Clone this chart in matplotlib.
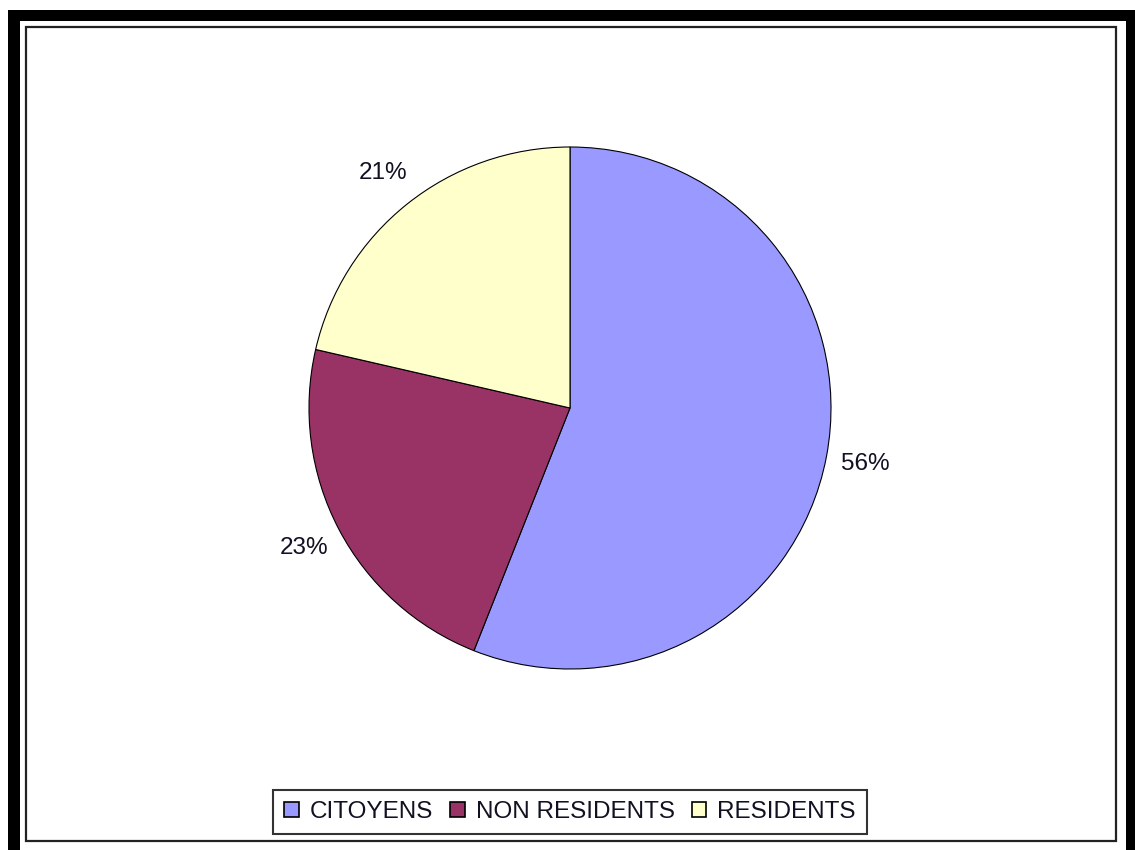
import matplotlib
matplotlib.use("Agg")
import matplotlib.pyplot as plt
from matplotlib.patches import Rectangle

plt.rcParams['font.family'] = ['Liberation Sans', 'DejaVu Sans']

# data
categories = ['CITOYENS', 'NON RESIDENTS', 'RESIDENTS']
shares = [56.0, 22.6, 21.4]
colors = ['#9999FF', '#993366', '#FFFFCC']

W, H = 1135, 850
fig = plt.figure(figsize=(W / 100, H / 100), dpi=100)

# frame: thick black outer + thin inner line (pixel coords, origin top-left)
def px_rect(x0, y0, x1, y1, **kw):
    return Rectangle((x0 / W, 1 - y1 / H), (x1 - x0) / W, (y1 - y0) / H,
                     transform=fig.transFigure, **kw)

for r in [(8, 10, 20, 860), (8, 10, 1135, 21), (1126, 10, 1135, 860)]:
    fig.patches.append(px_rect(*r, facecolor='black', edgecolor='none'))
fig.patches.append(px_rect(26, 27, 1116, 841, facecolor='none',
                           edgecolor='#222222', linewidth=1.6))

# pie
cx, cy, rad = 570, 408, 261
ax = fig.add_axes([(cx - rad) / W, 1 - (cy + rad) / H, 2 * rad / W, 2 * rad / H])
wedges, texts, autotexts = ax.pie(
    shares, colors=colors, startangle=90, counterclock=False,
    autopct='%.0f%%', pctdistance=1.15,
    wedgeprops=dict(edgecolor='black', linewidth=0.8),
    textprops=dict(fontsize=17.5, color='#111122'))
ax.set_xlim(-1, 1)
ax.set_ylim(-1, 1)
ax.set_aspect('equal')
ax.axis('off')

leg = fig.legend(wedges, categories, loc='center', ncol=3,
                 bbox_to_anchor=(570 / W, 1 - 812 / H),
                 fontsize=17.5, frameon=True, fancybox=False,
                 handlelength=0.6, handleheight=0.6, handletextpad=0.45,
                 columnspacing=0.7, borderpad=0.45, borderaxespad=0,
                 labelcolor='#111122')
leg.get_frame().set_edgecolor('black')
leg.get_frame().set_linewidth(1.5)
for h in leg.legend_handles:
    h.set_edgecolor('black')
    h.set_linewidth(1.2)

fig.savefig('out.png', dpi=100)
